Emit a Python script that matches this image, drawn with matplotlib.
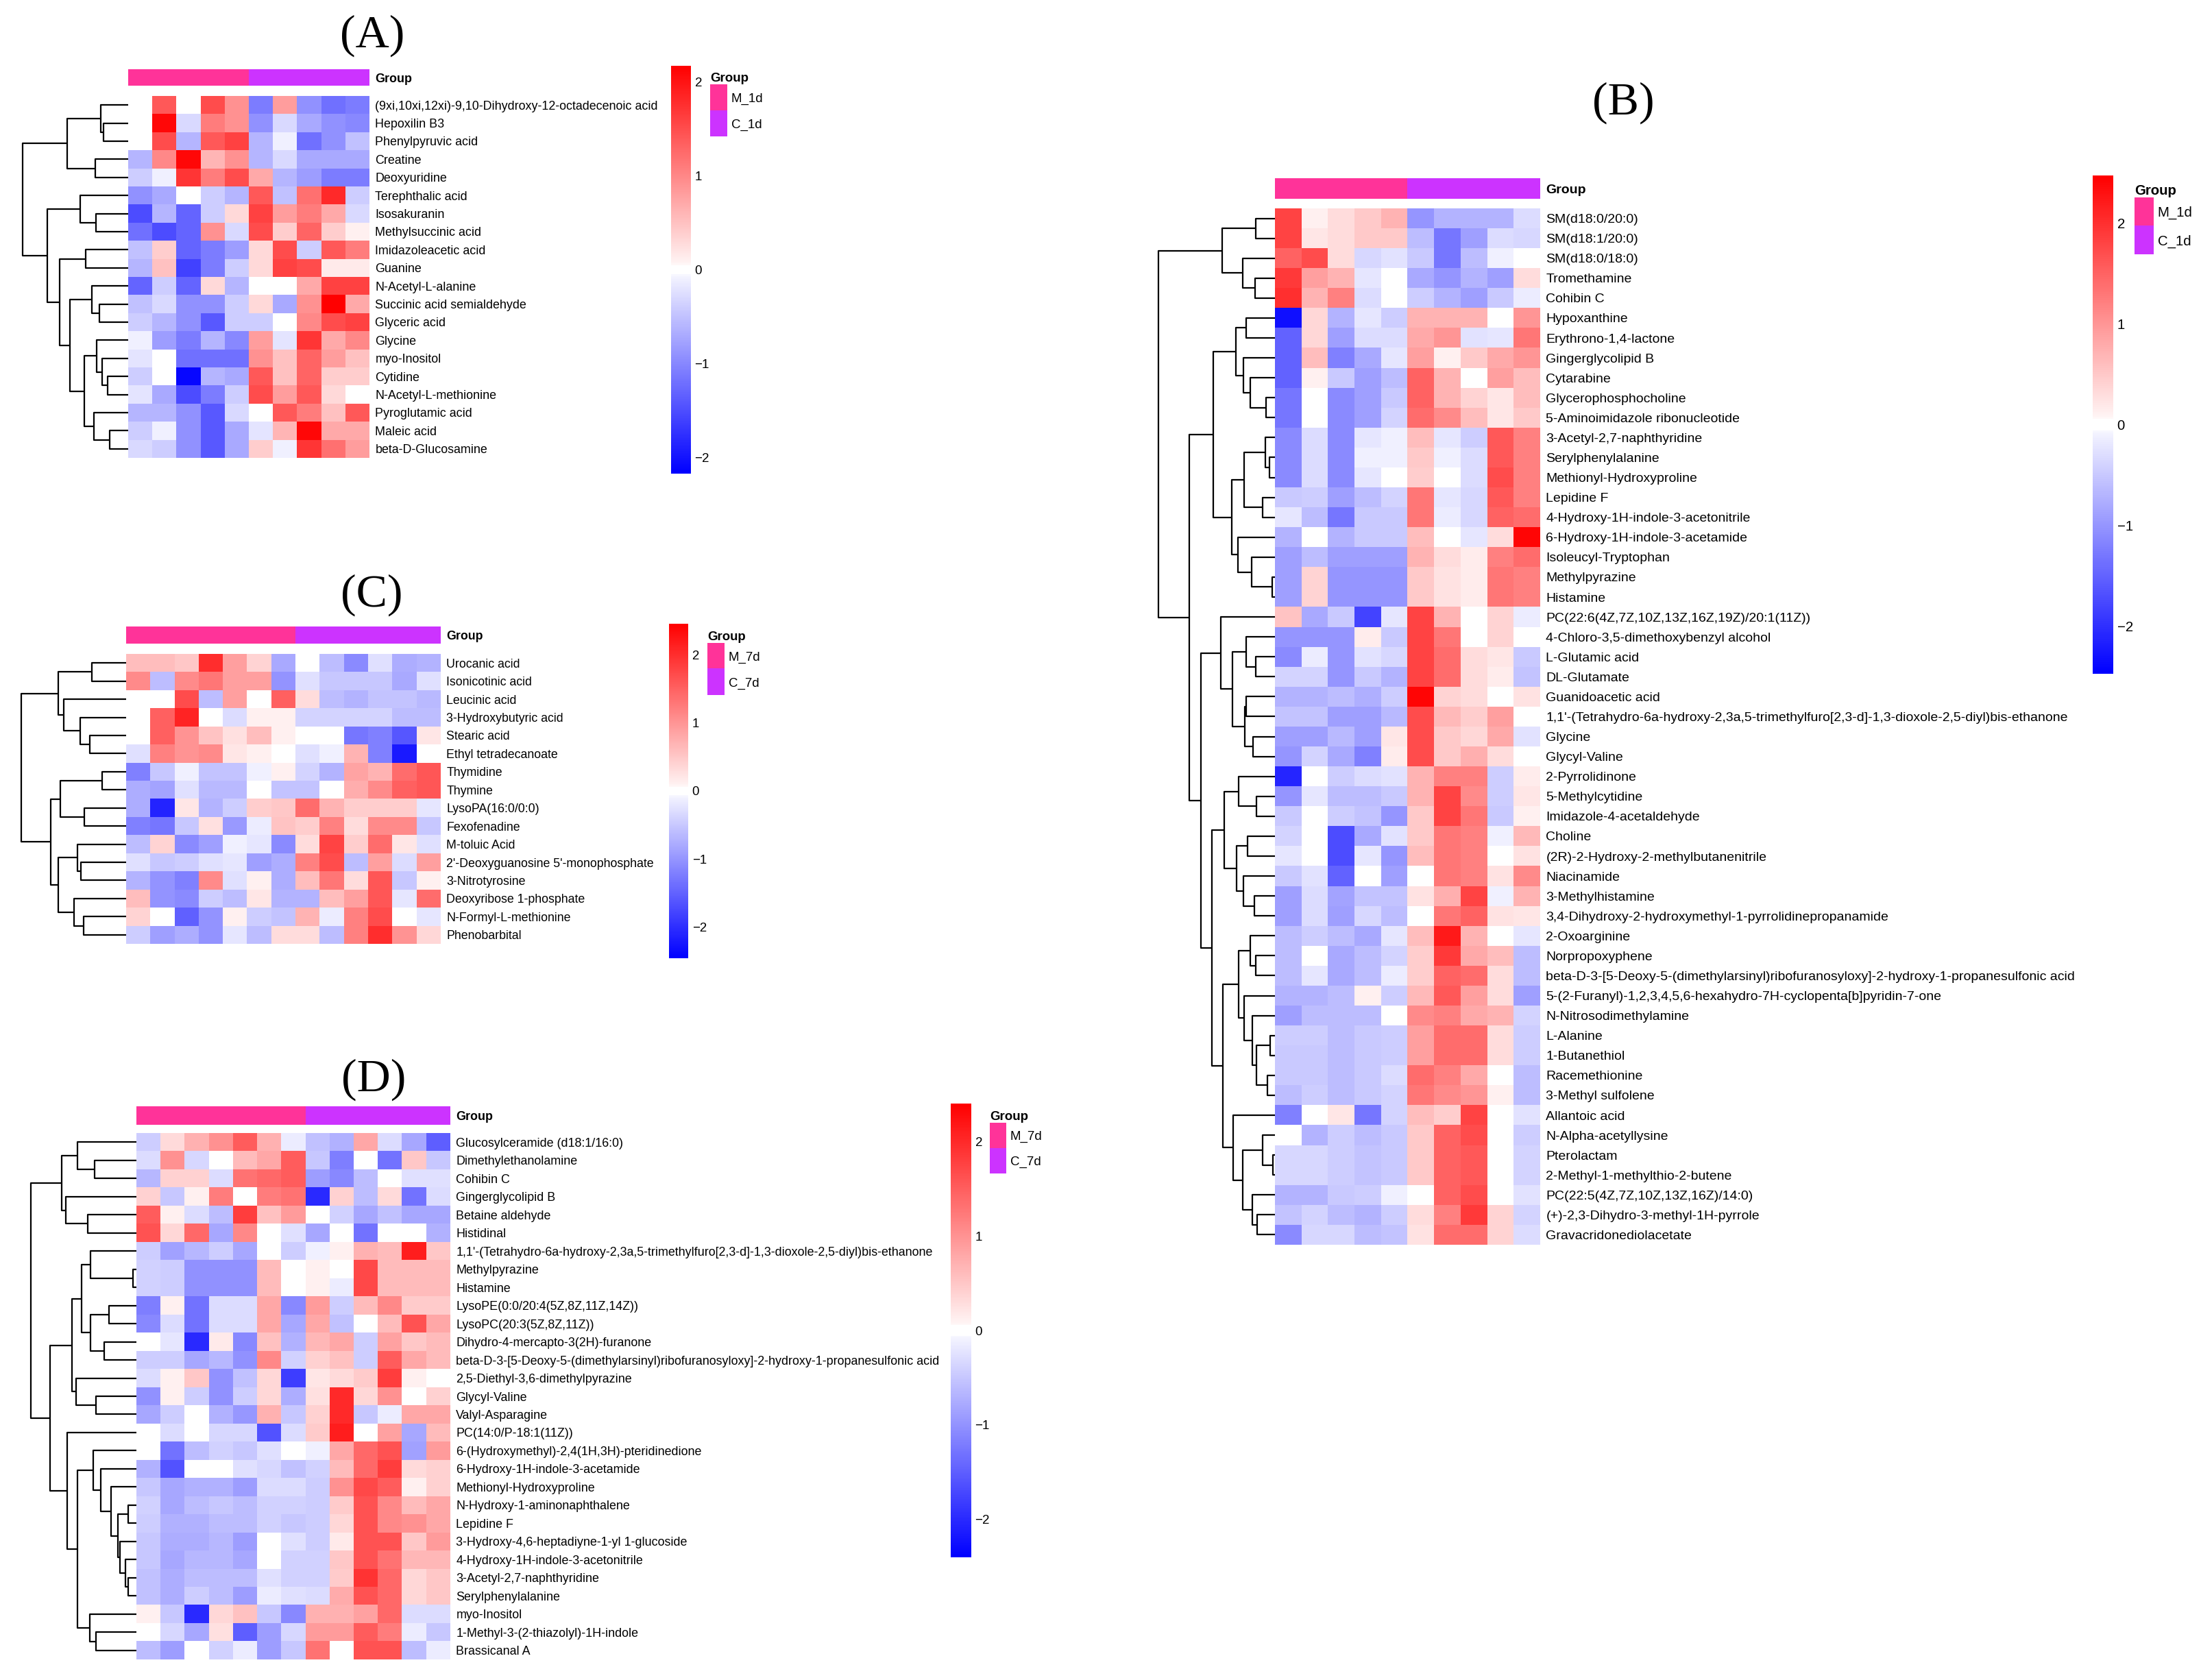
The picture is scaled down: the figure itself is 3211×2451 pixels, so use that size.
import matplotlib
matplotlib.use('Agg')
import matplotlib.pyplot as plt
from matplotlib.colors import LinearSegmentedColormap, ListedColormap, Normalize
from matplotlib.cm import ScalarMappable

W, H, DPI = 3211, 2451, 100
SANS = ['Liberation Sans', 'DejaVu Sans']
SERIF = ['Liberation Serif', 'DejaVu Serif']

heat_cmap = LinearSegmentedColormap.from_list('bwr_pheat', [(0, '#0000ff'), (0.485, '#f4f4ff'), (0.49, '#ffffff'),
                                                             (0.51, '#ffffff'), (0.515, '#fff4f4'), (1, '#ff0000')], N=256)
group_cmap = ListedColormap(['#ff3399', '#cc33ff'])

# ---------------- panel A: 1d ----------------
rows_a = ['(9xi,10xi,12xi)-9,10-Dihydroxy-12-octadecenoic acid', 'Hepoxilin B3', 'Phenylpyruvic acid', 'Creatine',
          'Deoxyuridine', 'Terephthalic acid', 'Isosakuranin', 'Methylsuccinic acid', 'Imidazoleacetic acid', 'Guanine',
          'N-Acetyl-L-alanine', 'Succinic acid semialdehyde', 'Glyceric acid', 'Glycine', 'myo-Inositol', 'Cytidine',
          'N-Acetyl-L-methionine', 'Pyroglutamic acid', 'Maleic acid', 'beta-D-Glucosamine']
vals_a = [
    [0, 1.4, 0, 1.5, 0.9, -1.1, 0.8, -0.9, -1.2, -1.1],
    [0, 2.1, -0.3, 1.1, 0.9, -0.9, -0.3, -0.7, -0.9, -1.0],
    [0, 1.5, -0.6, 1.4, 1.6, -0.6, -0.1, -1.2, -0.9, -0.5],
    [-0.6, 1.0, 2.1, 0.6, 0.9, -0.6, -0.3, -0.7, -0.7, -0.7],
    [-0.4, -0.1, 1.7, 1.1, 1.5, 0.7, -0.6, -0.8, -1.1, -1.1],
    [-0.9, -0.7, 0, -0.4, -0.6, 1.4, -0.5, 1.2, 1.8, -0.4],
    [-1.5, -0.6, -1.3, -0.4, 0.3, 1.6, 0.8, 1.1, 0.7, -0.3],
    [-1.2, -1.5, -1.3, 0.9, -0.3, 1.5, 0.4, 1.3, 0.4, 0.1],
    [-0.5, 0.4, -1.3, -1.1, -0.8, 0.3, 1.5, -0.4, 1.4, 1.1],
    [-0.6, 0.5, -1.6, -1.1, -0.4, 0.3, 1.6, 1.5, 0.15, 0.15],
    [-1.3, -0.4, -1.3, 0.3, -0.6, 0, 0, 0.7, 1.6, 1.6],
    [-0.5, -0.3, -0.9, -0.9, -0.4, 0.3, -0.7, 0.9, 2.2, 0.7],
    [-0.4, -0.6, -0.9, -1.4, -0.4, -0.4, 0, 1.0, 1.5, 1.6],
    [-0.1, -0.8, -1.1, -0.6, -1.0, 0.8, -0.2, 1.7, 0.7, 1.0],
    [-0.2, 0, -1.2, -1.2, -1.2, 0.9, 0.5, 1.3, 0.8, 0.5],
    [-0.4, 0, -2.1, -0.6, -0.7, 1.4, 0.5, 1.3, 0.4, 0.4],
    [-0.2, -0.7, -1.5, -1.1, -0.4, 1.5, 0.8, 1.4, 0.3, 0],
    [-0.6, -0.6, -0.9, -1.4, -0.3, 0, 1.4, 1.1, 0.5, 1.4],
    [-0.4, -0.1, -0.9, -1.4, -0.7, -0.2, 0.6, 2.1, 0.7, 0.7],
    [-0.3, -0.4, -0.9, -1.4, -0.7, 0.4, -0.1, 1.7, 1.2, 0.8],
]
groups_a = [0, 0, 0, 0, 0, 1, 1, 1, 1, 1]
names_a = ['M_1d', 'C_1d']
# nested [height, left, right]; ints are row indices
tree_a = [154, [89, [40, 0, [36, 1, 2]], [48, 3, 4]],
          [118, [70, 5, [47, 6, 7]],
           [100, [62, 8, 9], [85, [53, 10, [42, 11, 12]], [64, [46, 13, [38, 14, [30, 15, 16]]], [50, 17, [27, 18, 19]]]]]]]

# ---------------- panel B: 1d ----------------
rows_b = ['SM(d18:0/20:0)', 'SM(d18:1/20:0)', 'SM(d18:0/18:0)', 'Tromethamine', 'Cohibin C', 'Hypoxanthine',
          'Erythrono-1,4-lactone', 'Gingerglycolipid B', 'Cytarabine', 'Glycerophosphocholine',
          '5-Aminoimidazole ribonucleotide', '3-Acetyl-2,7-naphthyridine', 'Serylphenylalanine',
          'Methionyl-Hydroxyproline', 'Lepidine F', '4-Hydroxy-1H-indole-3-acetonitrile',
          '6-Hydroxy-1H-indole-3-acetamide', 'Isoleucyl-Tryptophan', 'Methylpyrazine', 'Histamine',
          'PC(22:6(4Z,7Z,10Z,13Z,16Z,19Z)/20:1(11Z))', '4-Chloro-3,5-dimethoxybenzyl alcohol', 'L-Glutamic acid',
          'DL-Glutamate', 'Guanidoacetic acid',
          "1,1'-(Tetrahydro-6a-hydroxy-2,3a,5-trimethylfuro[2,3-d]-1,3-dioxole-2,5-diyl)bis-ethanone",
          'Glycine', 'Glycyl-Valine', '2-Pyrrolidinone', '5-Methylcytidine', 'Imidazole-4-acetaldehyde', 'Choline',
          '(2R)-2-Hydroxy-2-methylbutanenitrile', 'Niacinamide', '3-Methylhistamine',
          '3,4-Dihydroxy-2-hydroxymethyl-1-pyrrolidinepropanamide', '2-Oxoarginine', 'Norpropoxyphene',
          'beta-D-3-[5-Deoxy-5-(dimethylarsinyl)ribofuranosyloxy]-2-hydroxy-1-propanesulfonic acid',
          '5-(2-Furanyl)-1,2,3,4,5,6-hexahydro-7H-cyclopenta[b]pyridin-7-one', 'N-Nitrosodimethylamine',
          'L-Alanine', '1-Butanethiol', 'Racemethionine', '3-Methyl sulfolene', 'Allantoic acid',
          'N-Alpha-acetyllysine', 'Pterolactam', '2-Methyl-1-methylthio-2-butene', 'PC(22:5(4Z,7Z,10Z,13Z,16Z)/14:0)',
          '(+)-2,3-Dihydro-3-methyl-1H-pyrrole', 'Gravacridonediolacetate']
vals_b = [
    [1.8, 0.1, 0.3, 0.5, 0.7, -1.0, -0.7, -0.7, -0.7, -0.3],
    [1.8, 0.2, 0.3, 0.5, 0.5, -0.6, -1.3, -0.9, -0.3, -0.35],
    [1.5, 1.7, 0.3, -0.35, -0.25, -0.5, -1.3, -0.6, -0.1, 0],
    [1.9, 0.9, 0.7, -0.2, 0, -0.8, -1.0, -0.7, -0.9, 0.3],
    [2.0, 0.7, 1.2, -0.3, 0, -0.45, -0.7, -0.9, -0.5, -0.15],
    [-2.3, 0.35, -0.7, -0.2, -0.45, 0.7, 0.7, 0.7, 0, 1.0],
    [-1.5, 0.35, -0.9, -0.3, -0.3, 0.8, 1.0, -0.25, -0.2, 1.3],
    [-1.5, 0.6, -1.2, -0.8, -0.2, 0.9, 0.1, 0.5, 0.8, 1.0],
    [-1.5, 0.1, -0.5, -0.9, -0.6, 1.5, 0.7, 0, 0.9, 0.6],
    [-1.3, 0, -1.1, -0.9, -0.5, 1.5, 0.7, 0.4, 0.2, 0.6],
    [-1.3, 0, -1.1, -0.9, -0.4, 1.4, 1.1, 0.6, 0.2, 0.5],
    [-1.1, -0.3, -1.1, -0.2, -0.1, 0.6, -0.2, -0.45, 1.6, 1.2],
    [-1.1, -0.3, -1.1, -0.1, -0.1, 0.5, -0.1, -0.3, 1.6, 1.2],
    [-1.1, -0.3, -1.1, -0.2, 0, 0.45, 0, -0.3, 1.7, 1.2],
    [-0.5, -0.45, -0.9, -0.6, -0.4, 1.3, -0.2, -0.35, 1.6, 1.2],
    [-0.2, -0.6, -1.3, -0.5, -0.5, 1.3, -0.15, -0.35, 1.5, 1.4],
    [-0.7, 0, -0.7, -0.5, -0.5, 0.6, 0, -0.2, 0.3, 2.4],
    [-0.9, -0.6, -0.9, -0.9, -0.9, 0.7, 0.3, 0.15, 1.2, 1.4],
    [-0.9, 0.4, -1.0, -1.0, -1.0, 0.5, 0.25, 0.15, 1.3, 1.2],
    [-0.9, 0.4, -1.0, -1.0, -1.0, 0.5, 0.25, 0.15, 1.3, 1.2],
    [0.55, -0.8, -0.5, -1.8, -0.2, 1.8, 0.7, 0, 0.4, -0.15],
    [-1.0, -1.0, -1.0, 0.15, -0.5, 1.8, 1.3, 0, 0.4, 0],
    [-1.1, -0.15, -1.0, -0.25, -0.35, 1.8, 1.4, 0.3, 0.2, -0.5],
    [-0.4, -0.4, -1.0, -0.5, -0.7, 1.8, 1.4, 0.3, 0.15, -0.55],
    [-0.7, -0.7, -0.6, -0.75, -0.45, 2.4, 0.4, 0.3, 0, 0.25],
    [-0.55, -0.55, -0.9, -0.9, -0.65, 1.7, 0.65, 0.45, 0.9, 0],
    [-0.9, -0.9, -0.65, -0.9, 0.2, 1.7, 0.5, 0.35, 0.8, -0.25],
    [-1.0, -0.4, -0.8, -1.2, 0.15, 1.7, 0.5, 0.75, 0.3, 0],
    [-2.1, 0, -0.45, -0.3, -0.25, 0.7, 1.2, 1.2, -0.45, 0.15],
    [-1.0, -0.2, -0.6, -0.6, -0.5, 0.7, 1.8, 1.1, -0.45, 0.2],
    [-0.5, 0, -0.45, -0.55, -1.0, 0.5, 1.8, 1.3, -0.5, 0.1],
    [-0.4, 0, -1.7, -0.8, -0.25, 0.5, 1.3, 1.2, -0.1, 0.65],
    [-0.2, 0, -1.7, -0.2, -1.0, 0.6, 1.3, 1.2, 0, 0.25],
    [-0.5, -0.25, -1.5, 0, -0.9, 0, 1.3, 1.2, 0.25, 1.1],
    [-0.9, -0.3, -0.85, -0.55, -0.55, 0.25, 0.75, 1.8, -0.1, 0.7],
    [-0.9, -0.3, -0.9, -0.35, -0.6, 0, 1.3, 1.5, 0.25, 0.2],
    [-0.6, -0.45, -0.6, -0.8, -0.2, 0.6, 2.2, 0.7, 0, -0.2],
    [-0.6, 0, -0.8, -0.6, -0.4, 0.45, 1.9, 0.8, 0.6, -0.6],
    [-0.6, -0.2, -0.8, -0.6, -0.15, 0.45, 1.5, 1.4, 0.3, -0.6],
    [-0.7, -0.7, -0.6, 0.1, -0.45, 0.65, 1.6, 0.9, 0.3, -0.9],
    [-0.9, -0.6, -0.6, -0.6, 0, 1.1, 1.2, 0.8, 0.7, -0.4],
    [-0.45, -0.45, -0.6, -0.5, -0.45, 0.9, 1.4, 1.4, 0.3, -0.45],
    [-0.5, -0.5, -0.6, -0.5, -0.45, 0.9, 1.4, 1.4, 0.3, -0.45],
    [-0.5, -0.5, -0.6, -0.5, -0.3, 1.4, 1.2, 0.8, 0, -0.6],
    [-0.6, -0.45, -0.6, -0.5, -0.4, 1.3, 1.1, 1.0, 0.1, -0.6],
    [-1.2, 0, 0.2, -1.3, -0.4, 0.6, 0.45, 1.8, 0, -0.25],
    [0, -0.7, -0.45, -0.6, -0.5, 0.5, 1.5, 1.7, 0, -0.45],
    [-0.35, -0.35, -0.45, -0.55, -0.5, 0.5, 1.5, 1.6, 0, -0.4],
    [-0.35, -0.35, -0.45, -0.55, -0.5, 0.5, 1.5, 1.6, 0, -0.4],
    [-0.7, -0.7, -0.5, -0.45, -0.1, 0, 1.5, 1.7, 0, -0.25],
    [-0.55, -0.4, -0.6, -0.7, -0.45, 0.3, 1.2, 1.9, 0.4, -0.4],
    [-1.1, -0.35, -0.35, -0.6, -0.55, 0.25, 1.4, 1.4, 0.4, -0.3],
]
groups_b = [0, 0, 0, 0, 0, 1, 1, 1, 1, 1]
names_b = ['M_1d', 'C_1d']
tree_b = [170,
          [77, [28, 0, 1], [47, 2, [29, 3, 4]]],
          [125,
           [90,
            [57, [42, 5, 6], [46, 7, [36, 8, [13, 9, 10]]]],
            [63, [45, [14, 11, [8, 12, 13]], [18, 14, 15]], [54, 16, [34, 17, [4, 18, 19]]]]],
           [108,
            [79, 20, [62, [42, 21, [28, 22, 23]], [44, [42, 24, 25], [32, 26, 27]]]],
            [92,
             [74, [53, 28, [27, 29, 30]], [56, [40, 31, 32], [46, 33, [30, 34, 35]]]],
             [76, [53, [36, 36, [28, 37, 38]], [45, 39, [33, 40, [27, [7, 41, 42], [11, 43, 44]]]]],
              [61, 45, [47, [18, 46, [3, 47, 48]], [33, 49, [26, 50, 51]]]]]]]]]

# ---------------- panel C: 7d ----------------
rows_c = ['Urocanic acid', 'Isonicotinic acid', 'Leucinic acid', '3-Hydroxybutyric acid', 'Stearic acid',
          'Ethyl tetradecanoate', 'Thymidine', 'Thymine', 'LysoPA(16:0/0:0)', 'Fexofenadine', 'M-toluic Acid',
          "2'-Deoxyguanosine 5'-monophosphate", '3-Nitrotyrosine', 'Deoxyribose 1-phosphate',
          'N-Formyl-L-methionine', 'Phenobarbital']
vals_c = [
    [0.6, 0.6, 0.5, 2.0, 0.9, 0.4, -0.8, 0, -0.6, -1.1, -0.25, -0.75, -0.7],
    [1.1, -0.6, 1.1, 1.3, 0.9, 0.9, -1.0, -0.25, -0.5, -0.5, -0.5, -0.8, -0.25],
    [-0.05, 0, 1.7, -0.6, 0.9, 0, 1.5, 0.3, -0.6, -0.7, -0.55, -0.55, -0.65],
    [-0.05, 1.5, 2.1, 0, -0.3, 0.1, 0.1, -0.4, -0.4, -0.4, -0.4, -0.6, -0.6],
    [-0.05, 1.5, 1.0, 0.55, 0.25, 0.6, 0.1, 0, 0, -1.3, -1.2, -1.6, 0.2],
    [-0.25, 1.2, 1.0, 1.1, 0.2, 0.1, 0, -0.25, -0.1, 0.7, -1.2, -2.2, 0],
    [-1.2, -0.5, -0.1, -0.55, -0.55, -0.1, 0.1, -0.4, -0.7, 0.85, 0.7, 1.4, 1.6],
    [-0.75, -0.85, -0.25, -0.65, -0.65, 0, -0.55, -0.55, 0, 0.75, 1.1, 1.5, 1.6],
    [-0.75, -2.1, 0.2, -0.7, -0.45, 0.45, 0.5, 1.4, 0.7, 0.45, 0.45, 0.45, -0.2],
    [-1.2, -1.3, -0.5, 0.25, -0.95, -0.15, 0.55, 0.45, 1.2, 0.3, 1.1, 1.1, -0.5],
    [-0.6, 0.4, -1.1, -0.9, -0.1, -0.2, -1.1, 0.3, 1.8, 0.45, 1.4, 0.2, -0.25],
    [-0.25, -0.5, -0.45, -0.25, -0.2, -0.9, -0.75, 1.2, 1.7, -0.6, 0.9, -0.3, 0.9],
    [-0.7, -1.0, -1.2, 1.1, -0.25, 0.1, -0.75, 0.6, 1.3, 0.3, 1.6, -0.5, 0.1],
    [0.6, -1.0, -1.1, -0.45, -0.6, 0.2, -0.7, -0.7, 0.6, 0.9, 1.6, -0.2, 1.4],
    [0.4, 0, -1.5, -1.0, 0.1, -0.45, -0.55, 0.7, -0.15, 1.2, 1.7, 0, -0.2],
    [-0.45, -0.9, -0.75, -1.0, -0.2, -0.6, 0.3, 0.3, -0.6, 1.2, 2.0, 1.0, 0.35],
]
groups_c = [0, 0, 0, 0, 0, 0, 0, 1, 1, 1, 1, 1, 1]
names_c = ['M_7d', 'C_7d']
tree_c = [153, [99, [50, 0, 1], [91, 2, [67, 3, [53, 4, 5]]]],
          [110, [96, [35, 6, 7], [61, 8, 9]], [99, [71, 10, [66, 11, 12]], [76, 13, [62, 14, 15]]]]]

# ---------------- panel D: 7d ----------------
rows_d = ['Glucosylceramide (d18:1/16:0)', 'Dimethylethanolamine', 'Cohibin C', 'Gingerglycolipid B',
          'Betaine aldehyde', 'Histidinal',
          "1,1'-(Tetrahydro-6a-hydroxy-2,3a,5-trimethylfuro[2,3-d]-1,3-dioxole-2,5-diyl)bis-ethanone",
          'Methylpyrazine', 'Histamine', 'LysoPE(0:0/20:4(5Z,8Z,11Z,14Z))', 'LysoPC(20:3(5Z,8Z,11Z))',
          'Dihydro-4-mercapto-3(2H)-furanone',
          'beta-D-3-[5-Deoxy-5-(dimethylarsinyl)ribofuranosyloxy]-2-hydroxy-1-propanesulfonic acid',
          '2,5-Diethyl-3,6-dimethylpyrazine', 'Glycyl-Valine', 'Valyl-Asparagine', 'PC(14:0/P-18:1(11Z))',
          '6-(Hydroxymethyl)-2,4(1H,3H)-pteridinedione', '6-Hydroxy-1H-indole-3-acetamide',
          'Methionyl-Hydroxyproline', 'N-Hydroxy-1-aminonaphthalene', 'Lepidine F',
          '3-Hydroxy-4,6-heptadiyne-1-yl 1-glucoside', '4-Hydroxy-1H-indole-3-acetonitrile',
          '3-Acetyl-2,7-naphthyridine', 'Serylphenylalanine', 'myo-Inositol', '1-Methyl-3-(2-thiazolyl)-1H-indole',
          'Brassicanal A']
vals_d = [
    [-0.45, 0.3, 0.7, 1.0, 1.5, 0.7, -0.15, -0.55, -0.7, 0.8, -0.3, -0.8, -1.5],
    [-0.3, 1.0, -0.35, 0, 0.6, 0.8, 1.5, -0.5, -1.2, 0, -1.3, 0.5, -0.5],
    [-0.65, 0.4, 0.4, -0.3, 1.3, 1.4, 1.5, -0.9, -1.1, -0.6, 0, -0.25, -0.25],
    [0.4, -0.5, 0.1, 1.2, 0, 1.2, 1.3, -2.0, 0.4, -0.6, 0.3, -1.3, -0.3],
    [1.5, 0.1, -0.3, -0.6, 1.8, 0.55, 0.9, 0, -0.4, -0.8, -0.55, -0.8, -0.8],
    [1.6, 0.35, 1.4, -0.8, 1.1, 0, -0.25, -0.8, 0, -1.3, 0, 0, -0.7],
    [-0.45, -0.85, -0.65, -0.45, -0.8, 0, -0.45, -0.1, 0.1, 0.7, 0.6, 2.1, 0.5],
    [-0.4, -0.45, -1.0, -1.0, -1.0, 0.6, 0, 0.1, 0, 1.7, 0.6, 0.6, 0.6],
    [-0.4, -0.45, -1.0, -1.0, -1.0, 0.6, 0, 0.1, -0.15, 1.7, 0.6, 0.6, 0.6],
    [-1.2, 0.1, -1.3, -0.3, -0.3, 0.8, -1.1, 0.9, -0.45, 0.6, 1.1, 0.45, 0.45],
    [-1.1, -0.3, -1.3, -0.3, -0.3, 0.8, -0.8, 0.8, -0.55, 0, 0.6, 1.6, 0.8],
    [0, -0.2, -2.0, 0.15, -1.1, 0.55, -0.7, 0.65, 0.8, -0.45, 0.85, 0.5, 0.6],
    [-0.45, -0.45, -0.8, -0.65, -1.0, 1.1, -0.4, 0.4, 0.55, -0.45, 1.5, 0.8, 0.6],
    [-0.3, 0.1, 0.5, -1.0, -0.55, 0.35, -1.8, 0.2, 0.3, 0.45, 1.8, 0.1, 0],
    [-1.0, 0.1, -0.45, -1.0, -0.45, 0.35, -0.75, 0.25, 2.0, 0.35, 1.0, 0, 0.4],
    [-0.8, -0.45, 0, -0.7, -0.95, 0.7, -0.5, 0.4, 2.0, -0.5, -0.15, 0.8, 0.8],
    [0, -0.3, 0.05, -0.35, -0.35, -1.6, -0.3, 0.45, 2.1, 0, 0.85, -0.8, 0.6],
    [0, -1.3, -0.6, -0.4, -0.5, -0.25, 0, -0.1, 0.8, 1.4, 1.6, -0.85, 0.9],
    [-0.7, -1.6, 0.05, 0, -0.25, -0.35, -0.55, -0.4, 0.6, 1.4, 1.8, 0.3, 0.4],
    [-0.5, -0.8, -0.7, -0.7, -0.9, -0.3, -0.3, -0.45, 1.0, 1.7, 1.5, 0.1, 0.4],
    [-0.4, -0.8, -0.6, -0.5, -0.6, -0.4, -0.4, -0.45, 0.45, 1.6, 1.1, 0.6, 0.8],
    [-0.45, -0.7, -0.7, -0.6, -0.6, -0.4, -0.5, -0.45, 0.35, 1.6, 1.1, 1.0, 0.8],
    [-0.5, -0.75, -0.75, -0.65, -0.9, 0, -0.25, -0.45, 0.15, 1.6, 1.6, 0.5, 0.9],
    [-0.5, -0.8, -0.65, -0.65, -0.8, 0, -0.4, -0.4, 0.5, 1.6, 1.3, 0.65, 0.65],
    [-0.55, -0.75, -0.6, -0.6, -0.6, -0.25, -0.4, -0.4, 0.45, 1.9, 1.4, 0.35, 0.5],
    [-0.55, -0.75, -0.45, -0.6, -0.9, -0.15, -0.25, -0.3, 0.75, 1.6, 1.4, 0.35, 0.5],
    [0.1, -0.5, -2.0, 0.35, 0.55, -0.5, -1.1, 0.7, 0.7, 0.85, 1.4, -0.3, -0.3],
    [0, -0.35, -0.8, 0.25, -1.5, -0.9, -0.35, 0.9, 0.9, 1.5, 1.2, -0.15, -0.5],
    [-0.6, -0.9, 0, -0.4, -0.15, -0.9, -0.5, 1.3, 0, 1.6, 1.6, -0.6, -0.15],
]
groups_d = [0, 0, 0, 0, 0, 0, 0, 1, 1, 1, 1, 1, 1]
names_d = ['M_7d', 'C_7d']
tree_d = [154,
          [109, [86, 0, [61, 1, 2]], [103, 3, [71, 4, 5]]],
          [126,
           [94, [80, [67, 6, [5, 7, 8]], [67, [40, 9, 10], [47, 11, 12]]], [88, 13, [59, 14, 15]]],
           [101, 16, [86, [63, 17, [52, 18, [37, 19, [27, [12, 20, 21], [24, 22, [16, 23, [12, 24, 25]]]]]]],
                      [68, 26, [59, 27, 28]]]]]]


def px_axes(fig, x0, y0, x1, y1):
    # pixel box (top-left origin) -> figure axes
    return fig.add_axes([x0 / W, 1 - y1 / H, (x1 - x0) / W, (y1 - y0) / H])


def draw_tree(ax, node):
    if isinstance(node, int):
        return node, 0
    h, left, right = node
    y1, h1 = draw_tree(ax, left)
    y2, h2 = draw_tree(ax, right)
    ax.plot([h1, h, h, h2], [y1, y1, y2, y2], color='black', lw=1.6, clip_on=False, solid_capstyle='butt')
    return (y1 + y2) / 2, h


def panel(fig, title, rows, vals, groups, names, tree, g):
    n = len(rows)
    x0, y0, x1, y1 = g['hm']
    fs = g['fs']

    ax = px_axes(fig, x0, y0, x1, y1)
    norm = Normalize(-g['vmax'], g['vmax'])
    ax.imshow(vals, cmap=heat_cmap, norm=norm, aspect='auto', interpolation='nearest')
    ax.yaxis.tick_right()
    ax.set_yticks(range(n))
    ax.set_yticklabels(rows)
    ax.set_xticks([])
    ax.tick_params(length=0, pad=6, labelsize=fs, labelfontfamily=SANS)
    for s in ax.spines.values():
        s.set_visible(False)

    # group annotation bar
    bx = px_axes(fig, x0, g['bar'][0], x1, g['bar'][1])
    bx.imshow([groups], cmap=group_cmap, vmin=0, vmax=1, aspect='auto', interpolation='nearest')
    bx.yaxis.tick_right()
    bx.set_yticks([0])
    bx.set_yticklabels(['Group'], fontweight='bold')
    bx.set_xticks([])
    bx.tick_params(length=0, pad=6, labelsize=fs, labelfontfamily=SANS)
    for s in bx.spines.values():
        s.set_visible(False)

    # row dendrogram
    root_h = tree[0]
    dx = px_axes(fig, x0 - root_h, y0, x0, y1)
    draw_tree(dx, tree)
    dx.set_xlim(root_h, 0)
    dx.set_ylim(n - 0.5, -0.5)
    dx.axis('off')

    # colour key
    cx = px_axes(fig, *g['cbar'])
    cb = fig.colorbar(ScalarMappable(norm=norm, cmap=heat_cmap), cax=cx)
    cb.outline.set_visible(False)
    cb.set_ticks([-2, -1, 0, 1, 2])
    cx.tick_params(length=0, pad=4, labelsize=fs * 1.05, labelfontfamily=SANS)

    # group legend
    lx = px_axes(fig, *g['leg'])
    lx.imshow([[0], [1]], cmap=group_cmap, vmin=0, vmax=1, aspect='auto')
    lx.yaxis.tick_right()
    lx.set_yticks([0, 1])
    lx.set_yticklabels(names)
    lx.set_xticks([])
    lx.tick_params(length=0, pad=4, labelsize=fs * 1.05, labelfontfamily=SANS)
    for s in lx.spines.values():
        s.set_visible(False)
    lx.set_title('Group', loc='left', fontweight='bold', fontsize=fs * 1.05, family=SANS, pad=3)

    fig.text(g['title'][0] / W, 1 - g['title'][1] / H, title, family=SERIF, fontsize=49,
             ha='center', va='center')


fig = plt.figure(figsize=(W / DPI, H / DPI), dpi=DPI)

panel(fig, '(A)', rows_a, vals_a, groups_a, names_a, tree_a,
      dict(hm=(187, 140, 539, 668), bar=(101, 125), cbar=(979, 96, 1008, 691), vmax=2.17,
           leg=(1036, 123, 1061, 199), title=(543, 52), fs=12.9))
panel(fig, '(B)', rows_b, vals_b, groups_b, names_b, tree_b,
      dict(hm=(1860, 304, 2247, 1816), bar=(260, 290), cbar=(3053, 256, 3083, 983), vmax=2.47,
           leg=(3114, 288, 3142, 371), title=(2368, 150), fs=14.0))
panel(fig, '(C)', rows_c, vals_c, groups_c, names_c, tree_c,
      dict(hm=(184, 954, 643, 1377), bar=(914, 939), cbar=(976, 910, 1004, 1398), vmax=2.46,
           leg=(1032, 938, 1057, 1014), title=(542, 868), fs=12.8))
panel(fig, '(D)', rows_d, vals_d, groups_d, names_d, tree_d,
      dict(hm=(199, 1653, 657, 2421), bar=(1614, 1641), cbar=(1387, 1610, 1417, 2272), vmax=2.4,
           leg=(1444, 1638, 1468, 1712), title=(545, 1575), fs=12.9))

fig.savefig('out.png', dpi=DPI)
